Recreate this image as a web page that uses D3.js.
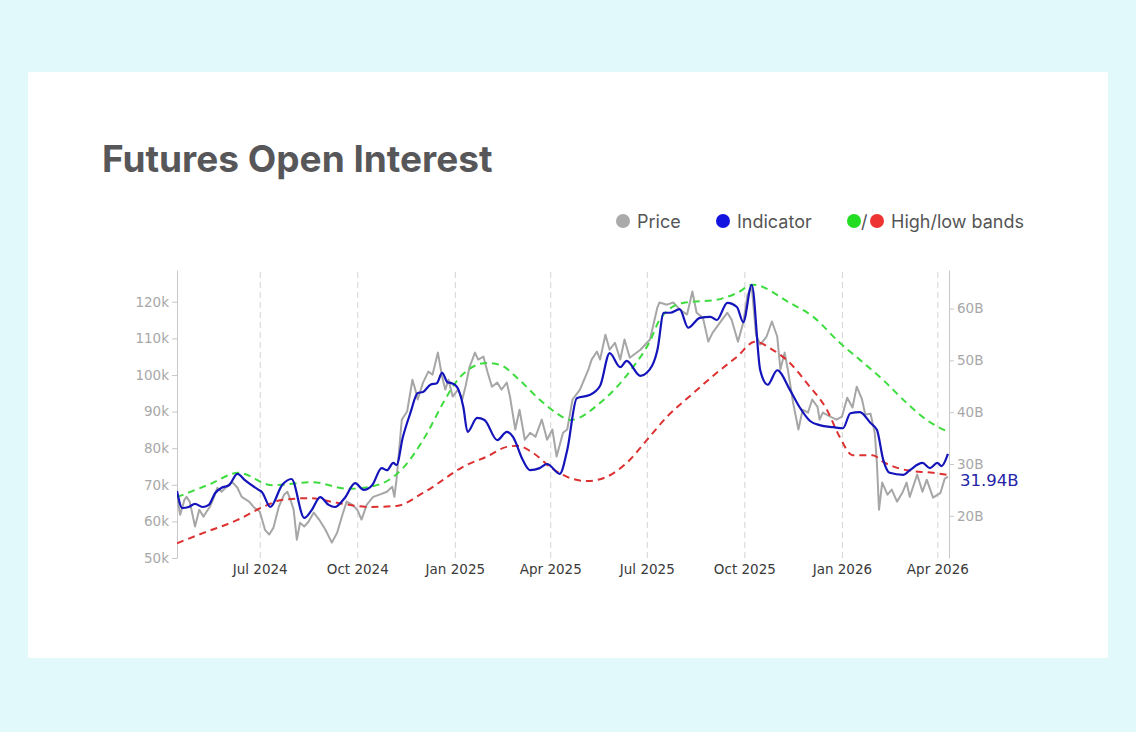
<!DOCTYPE html>
<html><head><meta charset="utf-8">
<script src="https://cdn.jsdelivr.net/npm/d3@7"></script>
<style>
html,body{margin:0;padding:0;background:#e2f9fb;}
svg{display:block;}
</style></head><body>
<svg id="chart" width="1136" height="732"></svg>
<script>
// ---------- DATA ----------
const priceDates = ["2024-04-14","2024-04-17","2024-04-21","2024-04-23","2024-04-26","2024-05-01","2024-05-05","2024-05-09","2024-05-12","2024-05-15",
"2024-05-19","2024-05-22","2024-05-26","2024-05-31","2024-06-05","2024-06-10","2024-06-14","2024-06-21","2024-06-26","2024-07-01",
"2024-07-06","2024-07-10","2024-07-14","2024-07-19","2024-07-24","2024-07-27","2024-07-30","2024-08-02","2024-08-05","2024-08-08",
"2024-08-12","2024-08-16","2024-08-21","2024-08-26","2024-09-01","2024-09-07","2024-09-12","2024-09-17","2024-09-21","2024-09-26",
"2024-10-01","2024-10-05","2024-10-10","2024-10-16","2024-10-22","2024-10-29","2024-11-03","2024-11-05","2024-11-07","2024-11-12",
"2024-11-17","2024-11-22","2024-11-24","2024-11-27","2024-12-02","2024-12-07","2024-12-11","2024-12-16","2024-12-20","2024-12-23",
"2024-12-26","2024-12-30","2025-01-04","2025-01-08","2025-01-11","2025-01-15","2025-01-20","2025-01-23","2025-01-28","2025-02-01",
"2025-02-05","2025-02-10","2025-02-14","2025-02-19","2025-02-22","2025-02-27","2025-03-03","2025-03-08","2025-03-13","2025-03-18",
"2025-03-24","2025-03-29","2025-04-03","2025-04-07","2025-04-13","2025-04-17","2025-04-22","2025-04-29","2025-05-07","2025-05-10",
"2025-05-15","2025-05-18","2025-05-23","2025-05-27","2025-06-01","2025-06-06","2025-06-10","2025-06-15","2025-06-25","2025-07-04",
"2025-07-11","2025-07-13","2025-07-20","2025-07-26","2025-08-01","2025-08-08","2025-08-13","2025-08-17","2025-08-23","2025-08-28",
"2025-09-01","2025-09-08","2025-09-15","2025-09-19","2025-09-25","2025-09-30","2025-10-04","2025-10-08","2025-10-12","2025-10-16",
"2025-10-22","2025-10-27","2025-11-01","2025-11-04","2025-11-08","2025-11-11","2025-11-16","2025-11-21","2025-11-25","2025-11-30",
"2025-12-04","2025-12-09","2025-12-11","2025-12-14","2025-12-21","2025-12-27","2026-01-01","2026-01-06","2026-01-11","2026-01-15",
"2026-01-20","2026-01-23","2026-01-28","2026-02-01","2026-02-03","2026-02-05","2026-02-08","2026-02-13","2026-02-17","2026-02-22",
"2026-02-27","2026-03-03","2026-03-06","2026-03-13","2026-03-18","2026-03-22","2026-03-28","2026-04-04","2026-04-08","2026-04-11"];
const priceValues = [66.7,61.8,65.9,66.7,65.4,58.6,63.2,61.3,62.7,64.0,
66.7,69.2,68.1,69.5,70.8,69.2,66.7,65.4,63.7,62.7,
57.7,56.4,58.3,64.0,67.3,68.1,65.9,63.2,55.0,59.6,
58.6,59.9,62.4,60.5,57.7,54.2,56.9,61.8,65.4,64.6,
63.2,60.5,64.6,66.7,67.3,68.1,69.5,66.7,71.4,87.8,
90.0,98.7,96.8,93.3,97.9,100.9,100.1,106.1,99.5,96.0,
98.7,94.1,96.0,93.3,96.8,102.3,106.1,104.2,105.0,100.6,
96.8,97.9,96.0,97.9,94.1,85.1,90.5,82.3,84.2,83.1,
87.8,82.3,85.1,77.7,84.2,85.1,93.3,96.0,101.5,104.2,
106.4,104.2,111.0,106.9,108.8,104.2,109.7,104.7,106.9,109.7,
118.4,119.8,119.2,119.8,117.9,116.5,122.8,117.0,115.6,109.1,
111.5,114.3,117.0,115.1,109.1,114.3,121.9,124.1,111.0,108.3,
110.5,114.6,110.5,101.5,106.1,101.5,92.4,85.1,90.5,89.7,
93.3,91.3,87.8,89.7,88.6,87.8,88.6,93.8,91.1,96.8,
93.3,89.2,89.4,84.2,76.0,63.2,70.6,67.3,68.7,65.4,
67.8,70.6,66.7,72.8,68.1,71.4,66.5,67.8,71.7,72.2];

const indicatorDates = ["2024-04-14","2024-04-19","2024-04-25","2024-05-01","2024-05-08","2024-05-14","2024-05-20","2024-05-26","2024-06-02","2024-06-10",
"2024-06-17","2024-06-30","2024-07-03","2024-07-11","2024-07-22","2024-07-31","2024-08-12","2024-08-19","2024-08-27","2024-09-04",
"2024-09-10","2024-09-19","2024-09-29","2024-10-07","2024-10-15","2024-10-24","2024-10-29","2024-11-04","2024-11-07","2024-11-13",
"2024-11-20","2024-11-27","2024-12-02","2024-12-09","2024-12-15","2024-12-20","2024-12-25","2024-12-29","2025-01-03","2025-01-09",
"2025-01-13","2025-01-22","2025-01-29","2025-02-10","2025-02-19","2025-02-25","2025-03-06","2025-03-13","2025-03-22","2025-03-29",
"2025-04-10","2025-04-17","2025-04-26","2025-05-08","2025-05-18","2025-05-27","2025-06-06","2025-06-12","2025-06-25","2025-07-01",
"2025-07-11","2025-07-17","2025-07-23","2025-08-01","2025-08-09","2025-08-20","2025-08-30","2025-09-05","2025-09-15","2025-09-24",
"2025-09-30","2025-10-08","2025-10-16","2025-10-23","2025-11-01","2025-11-13","2025-11-22","2025-12-02","2025-12-11","2025-12-24",
"2026-01-02","2026-01-09","2026-01-18","2026-01-28","2026-02-03","2026-02-09","2026-02-15","2026-02-28","2026-03-06","2026-03-18",
"2026-03-25","2026-04-01","2026-04-05","2026-04-11"];
const indicatorValues = [24.8,21.5,21.7,22.3,21.7,22.1,24.4,25.4,25.9,28.1,
26.9,25.0,24.6,21.7,25.9,27.1,19.6,21.1,23.6,22.1,
21.7,23.4,26.3,25.0,25.9,29.2,28.8,30.2,29.8,35.2,
39.8,43.7,43.9,45.3,45.6,47.6,45.8,45.6,44.9,41.0,
36.2,38.9,38.5,34.6,36.2,35.2,30.8,28.8,29.2,30.0,
28.1,32.7,42.7,43.3,45.1,51.4,48.7,49.9,47.0,47.6,
52.0,59.2,59.2,59.9,56.3,58.2,58.4,57.8,61.1,60.3,
57.4,64.6,48.1,45.3,48.1,44.3,41.0,38.3,37.5,37.1,
36.9,39.8,40.0,37.9,36.6,30.8,28.3,27.9,28.8,30.2,
29.2,30.2,29.6,31.94];

const highDates = ["2024-04-14","2024-05-15","2024-06-11","2024-07-13","2024-08-19","2024-09-23","2024-10-13","2024-11-04","2024-11-13","2024-12-06",
"2024-12-21","2025-01-06","2025-01-31","2025-02-13","2025-03-03","2025-03-22","2025-04-07","2025-04-20","2025-05-18","2025-06-18",
"2025-07-04","2025-07-13","2025-08-04","2025-09-05","2025-09-24","2025-10-09","2025-11-13","2025-12-05","2025-12-30","2026-01-18",
"2026-02-09","2026-03-03","2026-03-22","2026-04-11"];
const highValues = [23.6,26.1,28.3,25.9,26.5,25.2,25.6,27.5,29.2,36.0,
41.8,46.8,49.5,49.1,46.2,42.4,39.8,38.5,41.8,48.7,
53.7,57.8,61.1,61.7,63.0,64.6,61.1,58.4,53.4,50.1,
46.2,41.8,38.5,36.2];

const lowDates = ["2024-04-14","2024-05-09","2024-06-10","2024-07-04","2024-07-23","2024-08-17","2024-09-12","2024-10-13","2024-11-07","2024-12-02",
"2025-01-12","2025-01-31","2025-02-19","2025-03-01","2025-03-16","2025-04-01","2025-04-17","2025-05-06","2025-05-24","2025-06-12",
"2025-07-01","2025-07-20","2025-08-14","2025-09-05","2025-09-24","2025-10-11","2025-10-28","2025-11-13","2025-11-29","2025-12-18",
"2025-12-30","2026-01-11","2026-01-30","2026-02-09","2026-03-03","2026-03-28","2026-04-11"];
const lowValues = [14.7,16.7,19.2,21.7,23.1,23.4,22.5,21.7,21.9,24.4,
29.8,31.4,33.3,33.5,32.1,29.4,27.5,26.7,27.5,30.2,
34.6,39.1,43.7,47.6,50.7,53.6,52.0,49.5,45.6,40.4,
35.2,31.7,31.7,30.4,28.8,28.3,27.9];

const xTickDates = ["2024-07-01","2024-10-01","2025-01-01","2025-04-01","2025-07-01","2025-10-01","2026-01-01","2026-04-01"];
const leftTicks = [50,60,70,80,90,100,110,120];
const rightTicks = [20,30,40,50,60];
const legendItems = ["Price","Indicator","High/low bands"];
const lastLabel = "31.94B";

// ---------- CHART ----------
const parse = d3.timeParse("%Y-%m-%d");
const zip = (ds, vs) => ds.map((d, i) => ({ date: parse(d), value: vs[i] }));
const price = zip(priceDates, priceValues);
const indicator = zip(indicatorDates, indicatorValues);
const high = zip(highDates, highValues);
const low = zip(lowDates, lowValues);

const W = 1136, H = 732;
const L = 177, R = 949, T = 270, B = 558;

const svg = d3.select("#chart");
svg.append("rect").attr("width", W).attr("height", H).attr("fill", "#e2f9fb");
svg.append("rect").attr("x", 28).attr("y", 72).attr("width", 1080).attr("height", 586).attr("rx", 2).attr("fill", "#ffffff");

svg.append("text").attr("x", 102).attr("y", 172)
  .attr("font-family", "Inter, 'Noto Sans', sans-serif").attr("font-weight", 700)
  .attr("font-size", 37).attr("fill", "#57575a")
  .text("Futures Open Interest");

// Legend
const lg = svg.append("g").attr("font-family", "Inter, 'Noto Sans', sans-serif").attr("font-size", 18).attr("fill", "#555");
const ly = 221;
lg.append("circle").attr("cx", 623).attr("cy", ly).attr("r", 7).attr("fill", "#aaaaaa");
lg.append("text").attr("x", 637).attr("y", ly + 6.5).text(legendItems[0]);
lg.append("circle").attr("cx", 723).attr("cy", ly).attr("r", 7).attr("fill", "#1414e0");
lg.append("text").attr("x", 737).attr("y", ly + 6.5).text(legendItems[1]);
lg.append("circle").attr("cx", 854).attr("cy", ly).attr("r", 7).attr("fill", "#22dd22");
lg.append("text").attr("x", 861).attr("y", ly + 6.5).text("/");
lg.append("circle").attr("cx", 877).attr("cy", ly).attr("r", 7).attr("fill", "#ee3333");
lg.append("text").attr("x", 891).attr("y", ly + 6.5).text(legendItems[2]);

// Scales
const x = d3.scaleTime().domain([new Date(2024, 3, 14), new Date(2026, 3, 12)]).range([L, R]);
const yL = d3.scaleLinear().domain([50, 128.67]).range([B, T]);
const yR = d3.scaleLinear().domain([11.85, 67.45]).range([B, T]);

const tickFont = "'DejaVu Sans', Verdana, sans-serif";

// X axis with dashed gridlines
const xAxis = d3.axisBottom(x).tickValues(xTickDates.map(parse))
  .tickFormat(d3.timeFormat("%b %Y")).tickSizeInner(-(B - T)).tickSizeOuter(0).tickPadding(6);
const gx = svg.append("g").attr("transform", `translate(0,${B})`).call(xAxis);
gx.select(".domain").remove();
gx.selectAll(".tick line").attr("stroke", "#d4d4d4").attr("stroke-width", 1).attr("stroke-dasharray", "6,4");
gx.selectAll(".tick text").attr("font-family", tickFont).attr("font-size", 13.5).attr("fill", "#3a3a3a");

// Left axis
const gl = svg.append("g").attr("transform", `translate(${L},0)`)
  .call(d3.axisLeft(yL).tickValues(leftTicks).tickFormat(d => d + "k").tickSizeInner(5).tickSizeOuter(0).tickPadding(3));
gl.select(".domain").attr("stroke", "#c8c8c8");
gl.selectAll(".tick line").attr("stroke", "#c8c8c8");
gl.selectAll(".tick text").attr("font-family", tickFont).attr("font-size", 13.5).attr("fill", "#a8a8a8");

// Right axis
const gr = svg.append("g").attr("transform", `translate(${R},0)`)
  .call(d3.axisRight(yR).tickValues(rightTicks).tickFormat(d => d + "B").tickSizeInner(5).tickSizeOuter(0).tickPadding(3));
gr.select(".domain").attr("stroke", "#c8c8c8");
gr.selectAll(".tick line").attr("stroke", "#c8c8c8");
gr.selectAll(".tick text").attr("font-family", tickFont).attr("font-size", 13.5).attr("fill", "#a8a8a8");

// Clip
svg.append("clipPath").attr("id", "plotclip").append("rect").attr("x", L).attr("y", T - 5).attr("width", R - L).attr("height", B - T + 5);
const plot = svg.append("g").attr("clip-path", "url(#plotclip)");

const linePrice = d3.line().x(d => x(d.date)).y(d => yL(d.value)).curve(d3.curveLinear);
const lineR = d3.line().x(d => x(d.date)).y(d => yR(d.value)).curve(d3.curveMonotoneX);
const lineBand = d3.line().x(d => x(d.date)).y(d => yR(d.value)).curve(d3.curveMonotoneX);

plot.append("path").datum(price).attr("d", linePrice).attr("fill", "none")
  .attr("stroke", "#a6a6a6").attr("stroke-width", 2).attr("stroke-linejoin", "round");
plot.append("path").datum(low).attr("d", lineBand).attr("fill", "none")
  .attr("stroke", "#dd3030").attr("stroke-width", 2).attr("stroke-dasharray", "7,5");
plot.append("path").datum(high).attr("d", lineBand).attr("fill", "none")
  .attr("stroke", "#3edc3e").attr("stroke-width", 2).attr("stroke-dasharray", "7,5");
plot.append("path").datum(indicator).attr("d", lineR).attr("fill", "none")
  .attr("stroke", "#1414bb").attr("stroke-width", 2.2).attr("stroke-linejoin", "round");

// Last value label (placed just below the 30B tick label)
svg.append("text").attr("x", 960).attr("y", 486)
  .attr("font-family", tickFont).attr("font-size", 16.5)
  .attr("fill", "#2424a8").text(lastLabel);
</script>
</body></html>
